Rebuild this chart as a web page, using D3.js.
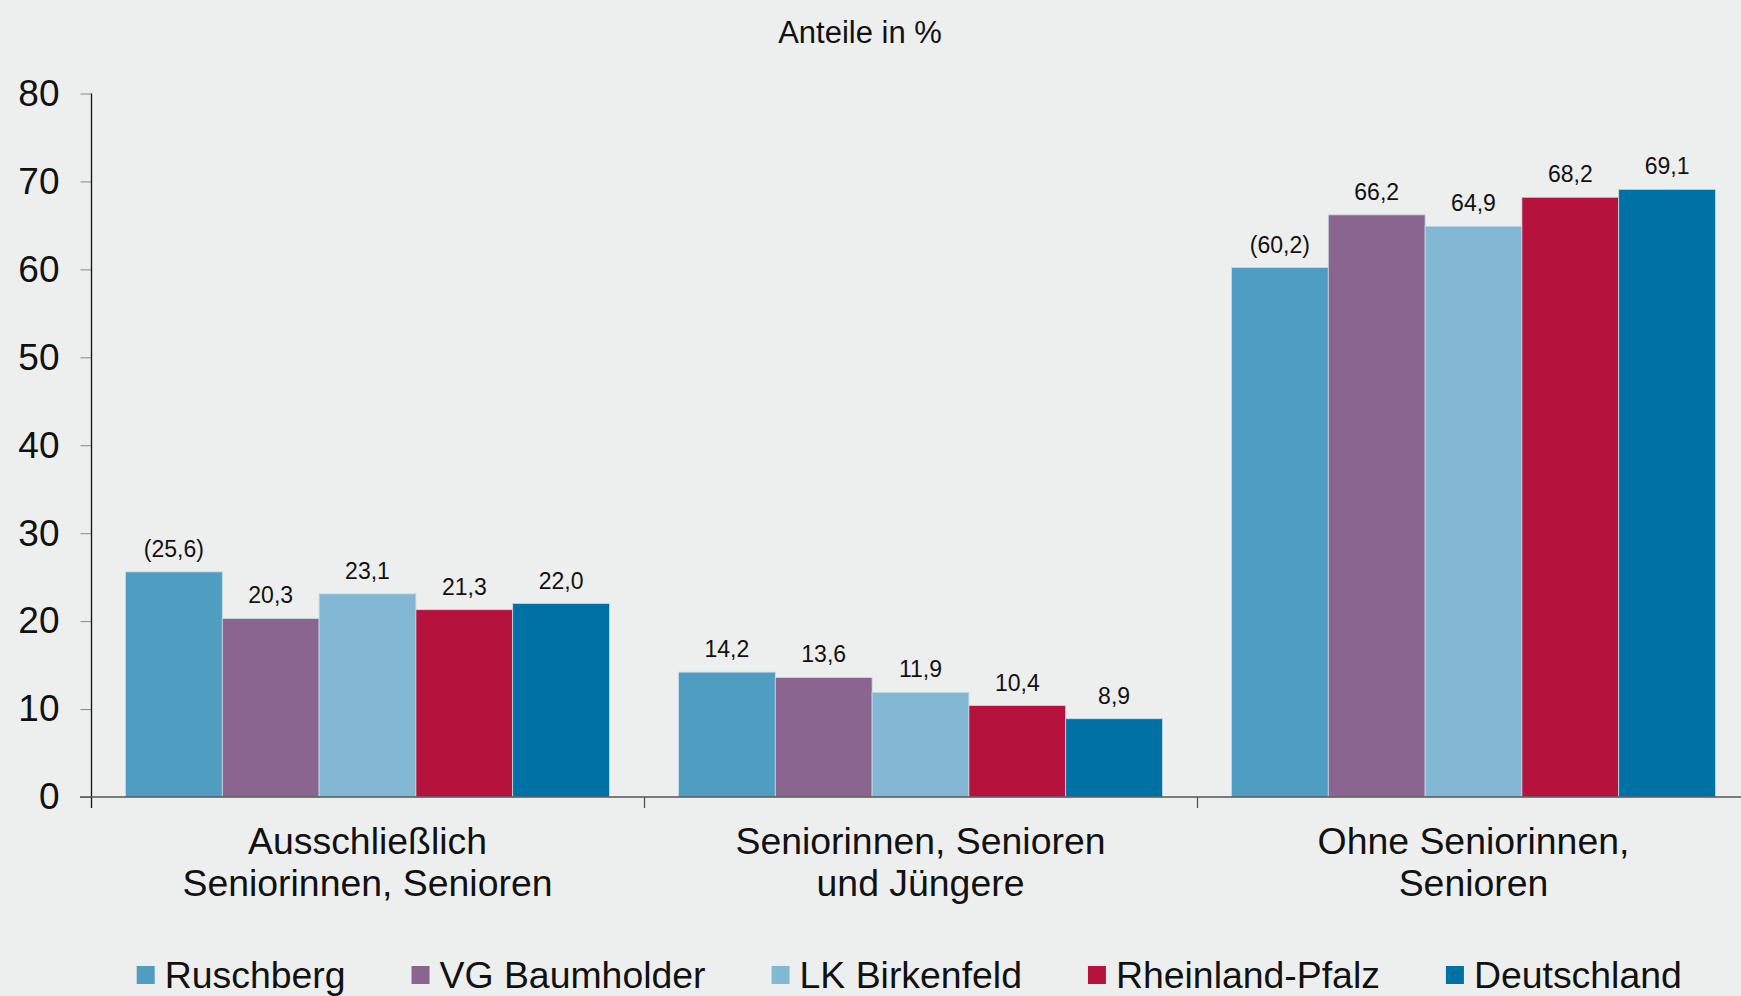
<!DOCTYPE html>
<html>
<head>
<meta charset="utf-8">
<script src="https://cdn.jsdelivr.net/npm/d3@7"></script>
<style>
  html, body { margin: 0; padding: 0; background: #edefee; }
  svg { display: block; font-family: "Liberation Sans", Arial, sans-serif; }
</style>
</head>
<body>
<svg id="chart" width="1741" height="996"></svg>
<script>
// ---- Data ----
const categories = [
  ["Ausschließlich", "Seniorinnen, Senioren"],
  ["Seniorinnen, Senioren", "und Jüngere"],
  ["Ohne Seniorinnen,", "Senioren"]
];
const seriesNames = ["Ruschberg", "VG Baumholder", "LK Birkenfeld", "Rheinland-Pfalz", "Deutschland"];
const ruschberg      = [25.6, 14.2, 60.2];
const vgBaumholder   = [20.3, 13.6, 66.2];
const lkBirkenfeld   = [23.1, 11.9, 64.9];
const rheinlandPfalz = [21.3, 10.4, 68.2];
const deutschland    = [22.0, 8.9, 69.1];
// values shown in parentheses (Ruschberg, per category)
const ruschbergBracketed = [true, false, true];
const yTicks = [0, 10, 20, 30, 40, 50, 60, 70, 80];
const title = "Anteile in %";

// ---- Styles ----
const colors = ["#4f9dc0", "#8a658f", "#82b8d4", "#b5133d", "#0071a4"];
const seriesValues = [ruschberg, vgBaumholder, lkBirkenfeld, rheinlandPfalz, deutschland];

const svg = d3.select("#chart");
const catKeys = categories.map((c, i) => "c" + i);

const x0 = d3.scaleBand().domain(catKeys).range([91, 1750]).paddingInner(0).paddingOuter(0);
const bw = x0.bandwidth();
const x1 = d3.scaleBand().domain(seriesNames).range([bw * 0.0624, bw * (1 - 0.0624)]).padding(0);
const y = d3.scaleLinear().domain([0, 80]).range([797, 93.5]);
const color = d3.scaleOrdinal().domain(seriesNames).range(colors);

// Title
svg.append("text")
  .attr("x", 860).attr("y", 43)
  .attr("text-anchor", "middle")
  .attr("font-size", 31)
  .attr("fill", "#111")
  .text(title);

// Bars
const data = [];
categories.forEach((c, ci) => {
  seriesNames.forEach((s, si) => {
    data.push({
      cat: catKeys[ci], series: s, value: seriesValues[si][ci],
      bracket: si === 0 && ruschbergBracketed[ci]
    });
  });
});

const fmt = v => d3.format(".1f")(v).replace(".", ",");

svg.append("g").selectAll("rect").data(data).join("rect")
  .attr("x", d => x0(d.cat) + x1(d.series))
  .attr("y", d => y(d.value))
  .attr("width", x1.bandwidth())
  .attr("height", d => y(0) - y(d.value))
  .attr("fill", d => color(d.series))
  .attr("stroke", "#c6dbe6")
  .attr("stroke-width", 0.8);

svg.append("g").selectAll("text").data(data).join("text")
  .attr("x", d => x0(d.cat) + x1(d.series) + x1.bandwidth() / 2)
  .attr("y", d => y(d.value) - 15)
  .attr("text-anchor", "middle")
  .attr("font-size", 23)
  .attr("fill", "#111")
  .text(d => d.bracket ? "(" + fmt(d.value) + ")" : fmt(d.value));

// Y axis
const yAxis = d3.axisLeft(y).tickValues(yTicks).tickSize(11).tickPadding(21).tickFormat(d3.format("d"));
const gy = svg.append("g").attr("transform", "translate(91.5,0)").call(yAxis);
gy.select(".domain").remove();
gy.selectAll(".tick line").attr("stroke", "#888");
gy.selectAll(".tick text").attr("font-size", 37).attr("fill", "#111")
  .attr("font-family", "'Liberation Sans', Arial, sans-serif");
svg.append("line")
  .attr("x1", 91.5).attr("x2", 91.5)
  .attr("y1", y(80)).attr("y2", y(0) + 11)
  .attr("stroke", "#111").attr("stroke-width", 1.3);

// X axis baseline and category ticks
svg.append("line")
  .attr("x1", 80).attr("x2", 1741)
  .attr("y1", y(0)).attr("y2", y(0))
  .attr("stroke", "#555").attr("stroke-width", 1.3);
svg.append("g").selectAll("line").data(catKeys.slice(1)).join("line")
  .attr("x1", d => x0(d) + 0.5).attr("x2", d => x0(d) + 0.5)
  .attr("y1", y(0)).attr("y2", y(0) + 11)
  .attr("stroke", "#555").attr("stroke-width", 1.3);

// Category labels
const catG = svg.append("g").selectAll("text").data(categories).join("text")
  .attr("x", (d, i) => x0(catKeys[i]) + bw / 2)
  .attr("y", 854)
  .attr("text-anchor", "middle")
  .attr("font-size", 37.4)
  .attr("fill", "#111");
catG.each(function(d) {
  const t = d3.select(this);
  d.forEach((line, li) => {
    t.append("tspan")
      .attr("x", t.attr("x"))
      .attr("dy", li === 0 ? 0 : 42)
      .text(line);
  });
});

// Legend
const legend = svg.append("g");
let lx = 136.7;
seriesNames.forEach((s, i) => {
  legend.append("rect")
    .attr("x", lx).attr("y", 966)
    .attr("width", 18).attr("height", 18)
    .attr("fill", color(s));
  const t = legend.append("text")
    .attr("x", lx + 28).attr("y", 988)
    .attr("font-size", 37.4)
    .attr("fill", "#111")
    .text(s);
  lx = lx + 28 + t.node().getComputedTextLength() + 66;
});
</script>
</body>
</html>
